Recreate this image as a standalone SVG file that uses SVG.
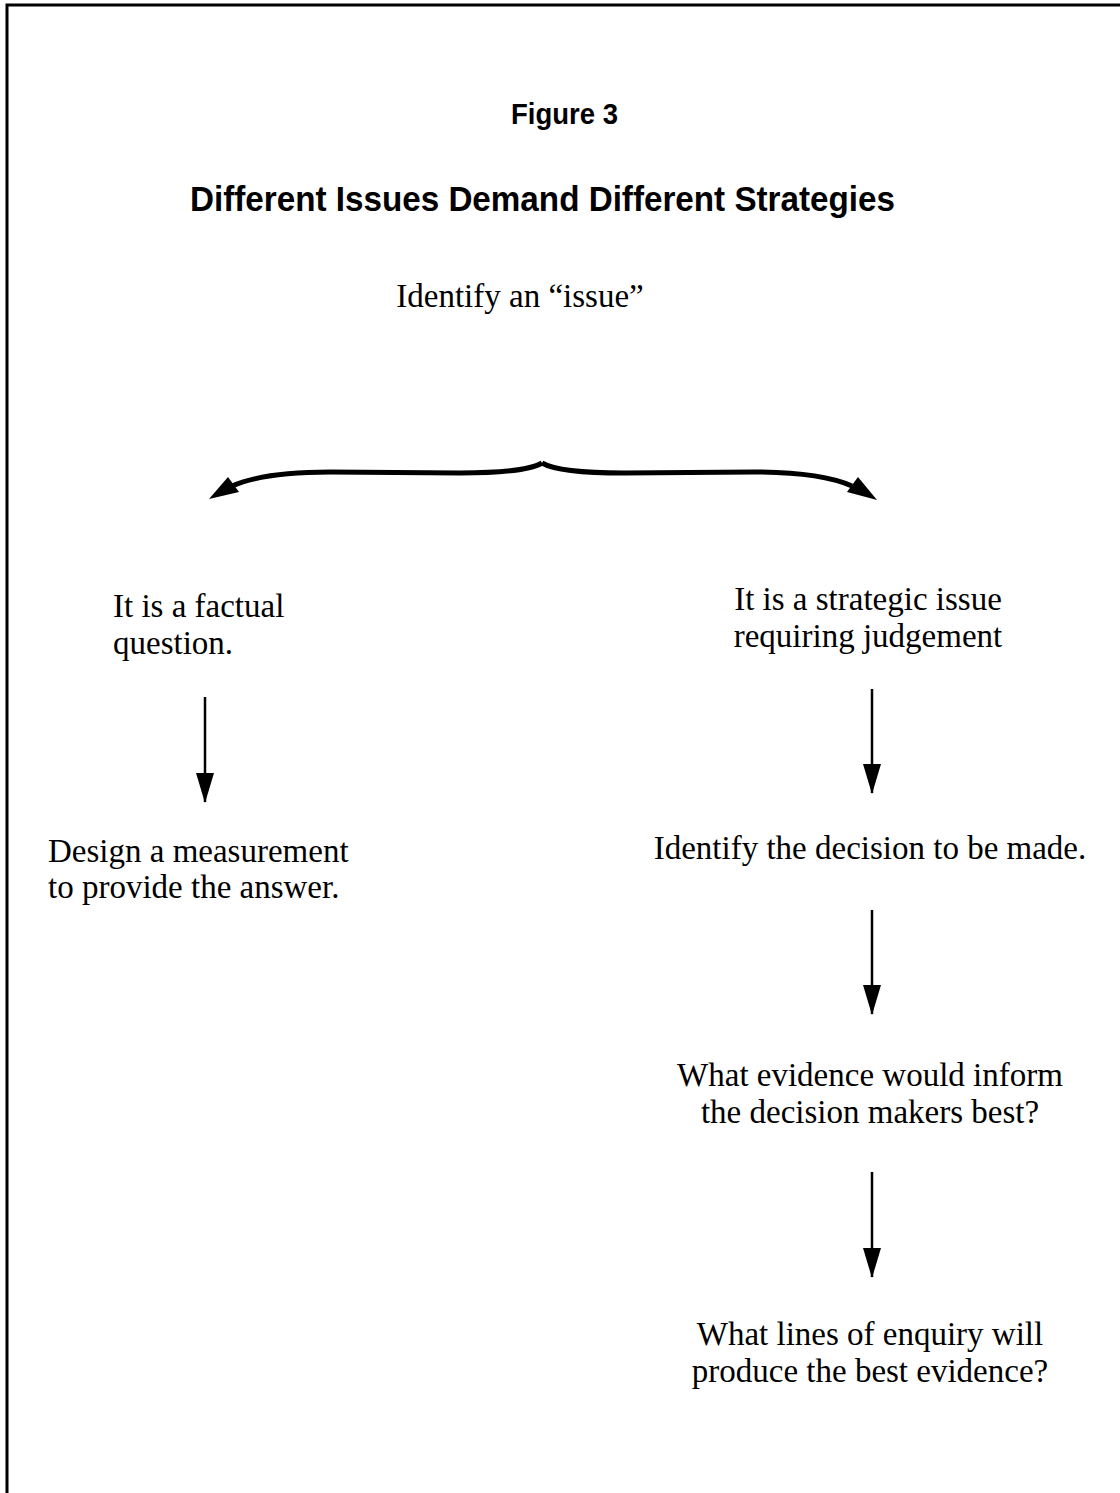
<svg xmlns="http://www.w3.org/2000/svg" width="1120" height="1493" viewBox="0 0 1120 1493">
<style>
.t{font-family:"Liberation Serif","Times New Roman",serif;font-size:33px;fill:#000}
.h{font-family:"Liberation Sans",Arial,sans-serif;font-weight:bold;fill:#000}
.ln{stroke:#000;stroke-width:2.5;fill:none}
</style>
<defs>
<marker id="ah" markerWidth="30" markerHeight="18" refX="29" refY="9" orient="auto" markerUnits="userSpaceOnUse" viewBox="0 0 30 18">
<path d="M0,0 L30,9 L0,18 Z" fill="#000"/>
</marker>
</defs>
<rect width="1120" height="1493" fill="#fff"/>
<g id="frame"><path d="M7,1493 V5 H1120" stroke="#000" stroke-width="3" fill="none"/></g>
<g id="title"><text class="h" x="511" y="124" font-size="29" textLength="107" lengthAdjust="spacingAndGlyphs">Figure 3</text></g>
<g id="subtitle"><text class="h" x="190" y="211" font-size="35" textLength="705" lengthAdjust="spacingAndGlyphs">Different Issues Demand Different Strategies</text></g>
<g id="issue"><text class="t" x="520" y="307" text-anchor="middle">Identify an “issue”</text></g>
<g id="factual"><text class="t" x="113" y="617">It is a factual</text><text class="t" x="113" y="654">question.</text></g>
<g id="strategic"><text class="t" x="868" y="610" text-anchor="middle">It is a strategic issue</text><text class="t" x="868" y="647" text-anchor="middle">requiring judgement</text></g>
<g id="measure"><text class="t" x="48" y="862">Design a measurement</text><text class="t" x="48" y="898">to provide the answer.</text></g>
<g id="decision"><text class="t" x="870" y="859" text-anchor="middle">Identify the decision to be made.</text></g>
<g id="evidence"><text class="t" x="870" y="1086" text-anchor="middle">What evidence would inform</text><text class="t" x="870" y="1123" text-anchor="middle">the decision makers best?</text></g>
<g id="enquiry"><text class="t" x="870" y="1345" text-anchor="middle">What lines of enquiry will</text><text class="t" x="870" y="1382" text-anchor="middle">produce the best evidence?</text></g>
<g id="connectors">
<path d="M542,463 C530,470 505,473 460,473 C410,473 370,472 330,472 C285,472 255,476 232,486" stroke="#000" stroke-width="5" fill="none"/>
<path d="M542,463 C554,470 579,473 624,473 C674,473 714,472 754,472 C799,472 829,476 852,486" stroke="#000" stroke-width="5" fill="none"/>
<path d="M209,499 L228,477 L239,492 Z" fill="#000"/>
<path d="M877,500 L858,477 L847,492 Z" fill="#000"/>
<line class="ln" x1="205" y1="697" x2="205" y2="802" marker-end="url(#ah)"/>
<line class="ln" x1="872" y1="689" x2="872" y2="793" marker-end="url(#ah)"/>
<line class="ln" x1="872" y1="910" x2="872" y2="1014" marker-end="url(#ah)"/>
<line class="ln" x1="872" y1="1172" x2="872" y2="1277" marker-end="url(#ah)"/>
</g>
</svg>
